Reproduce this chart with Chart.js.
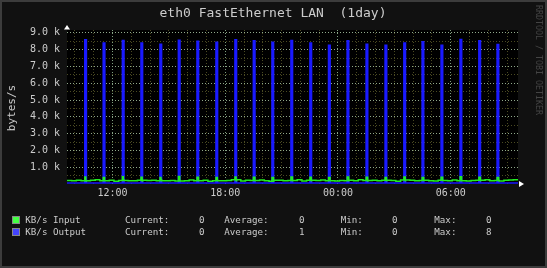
<!DOCTYPE html>
<html>
<head>
<meta charset="utf-8">
<script src="https://cdn.jsdelivr.net/npm/chart.js@4/dist/chart.umd.min.js"></script>
<style>
  html, body { margin: 0; padding: 0; background: #111111; }
  canvas { display: block; }
</style>
</head>
<body>
<canvas id="rrdChart" width="547" height="268"></canvas>
<script>
// time axis in hours (24+ means next day)
var startHour = 9.58;
var endHour = 33.58;
var stepH = 5 / 60; // rrd step, 5 min
var labelHours = [12, 18, 24, 30];
var timeLabels = ["12:00", "18:00", "00:00", "06:00"];

// output bursts (bytes/s), one each hour
var spikeHours = [10.57, 11.55, 12.57, 13.56, 14.57, 15.55, 16.54, 17.55, 18.56, 19.54, 20.53, 21.54,
  22.55, 23.54, 24.53, 25.54, 26.55, 27.55, 28.52, 29.53, 30.54, 31.54, 32.51];
var outputPeaks = [8580, 8400, 8540, 8400, 8320, 8560, 8500, 8440, 8580, 8520, 8440, 8540,
  8400, 8260, 8520, 8320, 8260, 8400, 8460, 8260, 8600, 8520, 8310];
var outputBase = 60;

// input (bytes/s), every 15 min from startHour
var inputBase = [
  210, 190, 230, 200, 180, 220, 250, 190, 200, 230, 170, 210, 240, 200, 190, 220,
  180, 210, 230, 200, 250, 190, 210, 180, 220, 200, 240, 190, 210, 230, 170, 200,
  230, 190, 210, 250, 200, 180, 220, 210, 190, 240, 200, 170, 220, 230, 190, 210,
  200, 250, 180, 220, 190, 210, 240, 200, 230, 180, 210, 200, 220, 190, 250, 210,
  180, 220, 200, 230, 190, 210, 170, 240, 200, 220, 190, 210, 230, 200, 180, 220,
  210, 190, 240, 200, 220, 180, 210, 230, 190, 250, 200, 210, 180, 220, 240, 260
];
var inputPeaks = [420, 380, 430, 400, 390, 440, 400, 380, 420, 400, 390, 410,
  400, 380, 420, 400, 390, 410, 380, 400, 430, 400, 380];

// legend figures (KB/s)
var seriesNames = ["KB/s Input", "KB/s Output"];
var curVals = [0, 0];
var avgVals = [0, 1];
var minVals = [0, 0];
var maxVals = [0, 8];

var inColor = "#22ee22";
var outColor = "#1a1aff";

// build points
var outPts = [{ x: startHour, y: outputBase }];
spikeHours.forEach(function (t, i) {
  outPts.push({ x: t - stepH / 2, y: outputBase });
  outPts.push({ x: t - stepH / 2, y: outputPeaks[i] });
  outPts.push({ x: t + stepH / 2, y: outputPeaks[i] });
  outPts.push({ x: t + stepH / 2, y: outputBase });
});
outPts.push({ x: endHour, y: outputBase });

var inPts = [];
inputBase.forEach(function (v, i) {
  inPts.push({ x: startHour + i * 0.25, y: v });
});
spikeHours.forEach(function (t, i) {
  var idx = Math.floor((t - startHour) / 0.25);
  inPts.push({ x: t - stepH / 2, y: inputPeaks[i] });
  inPts.push({ x: t + stepH / 2, y: inputBase[idx] });
});
inPts.sort(function (a, b) { return a.x - b.x; });
inPts.push({ x: endHour, y: inputBase[inputBase.length - 1] });

var mono = "'DejaVu Sans Mono', monospace";

var rrdDecor = {
  id: "rrdDecor",
  beforeDraw: function (chart) {
    var c = chart.ctx, a = chart.chartArea;
    c.save();
    c.fillStyle = "#111111";
    c.fillRect(0, 0, chart.width, chart.height);
    c.fillStyle = "#000000";
    c.fillRect(a.left, a.top, a.right - a.left, a.bottom - a.top);
    c.restore();
  },
  afterDraw: function (chart) {
    var c = chart.ctx, a = chart.chartArea;
    c.save();
    // frame
    c.strokeStyle = "#3c3c3c";
    c.lineWidth = 2;
    c.strokeRect(1, 1, chart.width - 2, chart.height - 2);

    // title
    c.fillStyle = "#cccccc";
    c.font = "13px " + mono;
    c.textAlign = "center";
    c.textBaseline = "middle";
    c.fillText("eth0 FastEthernet LAN  (1day)", 273, 14);

    // y title
    c.save();
    c.translate(12, 108);
    c.rotate(-Math.PI / 2);
    c.font = "11px " + mono;
    c.fillText("bytes/s", 0, 0);
    c.restore();

    // watermark
    c.save();
    c.translate(538.5, 5);
    c.rotate(Math.PI / 2);
    c.font = "8.3px " + mono;
    c.fillStyle = "#444444";
    c.textAlign = "left";
    c.fillText("RRDTOOL / TOBI OETIKER", 0, 0);
    c.restore();

    // arrows
    c.fillStyle = "#ffffff";
    c.beginPath();
    c.moveTo(a.left - 3, a.top - 0.5);
    c.lineTo(a.left + 3, a.top - 0.5);
    c.lineTo(a.left, a.top - 5);
    c.fill();
    c.beginPath();
    c.moveTo(a.right + 1, a.bottom - 3);
    c.lineTo(a.right + 1, a.bottom + 3);
    c.lineTo(a.right + 6, a.bottom);
    c.fill();

    // legend
    c.font = "9.2px " + mono;
    c.textBaseline = "middle";
    for (var i = 0; i < 2; i++) {
      var y = 220.5 + i * 12;
      c.fillStyle = i === 0 ? "#44ff44" : "#4444ff";
      c.fillRect(13, y - 3.5, 6, 6);
      c.strokeStyle = "#888888";
      c.lineWidth = 1;
      c.strokeRect(12.5, y - 4, 7, 7);
      c.fillStyle = "#cccccc";
      c.textAlign = "left";
      c.fillText(seriesNames[i], 25.3, y);
      c.fillText("Current:", 125, y);
      c.fillText("Average:", 224.3, y);
      c.fillText("Min:", 340.7, y);
      c.fillText("Max:", 434.3, y);
      c.textAlign = "right";
      c.fillText(String(curVals[i]), 204.5, y);
      c.fillText(String(avgVals[i]), 304.5, y);
      c.fillText(String(minVals[i]), 397.5, y);
      c.fillText(String(maxVals[i]), 491.5, y);
    }
    c.restore();
  }
};

var ctx = document.getElementById("rrdChart").getContext("2d");
var rrdChart = new Chart(ctx, {
  type: "line",
  data: {
    datasets: [
      {
        label: seriesNames[0],
        data: inPts,
        borderColor: inColor,
        borderWidth: 1.5,
        pointRadius: 0,
        stepped: true,
        fill: false,
      },
      {
        label: seriesNames[1],
        data: outPts,
        borderColor: outColor,
        borderWidth: 1.6,
        pointRadius: 0,
        fill: false,
      },
    ],
  },
  options: {
    responsive: false,
    animation: false,
    layout: { padding: { top: 30, right: 29, bottom: 0, left: 0 } },
    plugins: { legend: { display: false }, tooltip: { enabled: false } },
    scales: {
      x: {
        type: "linear",
        min: startHour,
        max: endHour,
        afterFit: function (s) { s.height = 84; },
        afterBuildTicks: function (s) {
          var t = [];
          for (var h = Math.ceil(startHour); h <= endHour; h++) t.push({ value: h });
          s.ticks = t;
        },
        border: { display: false, dash: [1, 2] },
        grid: {
          drawTicks: false,
          lineWidth: 1,
          color: function (c) {
            return labelHours.indexOf(c.tick && c.tick.value) >= 0 ? "#7f9f7f" : "#4a4a22";
          },
        },
        ticks: {
          padding: 3,
          autoSkip: false,
          maxRotation: 0,
          color: "#cccccc",
          font: { family: mono, size: 10 },
          callback: function (v) {
            var k = labelHours.indexOf(v);
            return k >= 0 ? timeLabels[k] : "";
          },
        },
      },
      y: {
        min: 0,
        max: 9170,
        afterFit: function (s) { s.width = 67; },
        afterBuildTicks: function (s) {
          var t = [];
          for (var v = 500; v <= 9000; v += 500) t.push({ value: v });
          s.ticks = t;
        },
        border: { display: false, dash: [1, 2] },
        grid: {
          drawTicks: false,
          lineWidth: 1,
          color: function (c) {
            return c.tick && c.tick.value % 1000 === 0 ? "#8fa88a" : "#4a4a22";
          },
        },
        ticks: {
          padding: 7,
          autoSkip: false,
          color: "#cccccc",
          font: { family: mono, size: 10 },
          callback: function (v) {
            return v % 1000 === 0 ? (v / 1000).toFixed(1) + " k" : "";
          },
        },
      },
    },
  },
  plugins: [rrdDecor],
});
</script>
</body>
</html>
